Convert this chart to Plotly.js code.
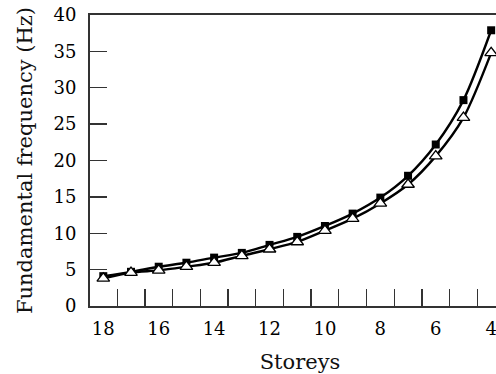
<!DOCTYPE html>
<html>
<head>
<meta charset="utf-8">
<script src="https://cdn.plot.ly/plotly-3.0.1.min.js"></script>
<style>html,body{margin:0;padding:0;background:#fff;overflow:hidden;width:496px;height:374px;}#chart{width:520px;height:374px;}</style>
</head>
<body>
<div id="chart"></div>
<script>
const storeys = [18,17,16,15,14,13,12,11,10,9,8,7,6,5,4];
const seriesSquare = [4.1,4.7,5.4,5.95,6.65,7.3,8.4,9.5,11.0,12.7,14.9,17.9,22.2,28.3,37.9];
const seriesTriangle = [3.8,4.6,4.9,5.4,5.95,6.9,7.8,8.8,10.35,12.0,14.1,16.7,20.6,25.9,34.8];
const xTickVals = [18,16,14,12,10,8,6,4];
const xMinorTicks = [17.5,16.5,15.5,14.5,13.5,12.5,11.5,10.5,9.5,8.5,7.5,6.5,5.5,4.5];
const yTickVals = [0,5,10,15,20,25,30,35,40];

const tickFont = {family: 'DejaVu Serif, serif', size: 18, color: '#000'};
const titleFont = {family: 'DejaVu Serif, serif', size: 21, color: '#111'};
const xRange = [18.48, 3.32];

const traces = [
  {x: storeys, y: seriesSquare, type: 'scatter', mode: 'lines+markers',
   line: {color: '#000', width: 2.4, shape: 'spline', smoothing: 0.8},
   marker: {symbol: 'square', size: 8, color: '#000'}, showlegend: false},
  {x: storeys, y: seriesTriangle, type: 'scatter', mode: 'lines+markers',
   line: {color: '#000', width: 2.4, shape: 'spline', smoothing: 0.8},
   marker: {symbol: 'triangle-up', size: 11, color: '#fff', line: {color: '#000', width: 1.3}}, showlegend: false},
  {x: [xMinorTicks[0]], y: [null], xaxis: 'x2', yaxis: 'y', type: 'scatter', mode: 'markers', showlegend: false, hoverinfo: 'skip'}
];

const layout = {
  width: 520, height: 374,
  margin: {l: 90, r: 10, t: 15, b: 68},
  paper_bgcolor: '#fff', plot_bgcolor: '#fff',
  font: tickFont,
  xaxis: {
    range: xRange, tickvals: xTickVals, ticktext: xTickVals.map(String),
    ticks: '', showgrid: false, zeroline: false,
    showline: true, linecolor: '#333', linewidth: 2, mirror: true,
    tickfont: tickFont, ticklabeloverflow: 'allow',
    ticklabelstandoff: 5,
    title: {text: 'Storeys', font: titleFont, standoff: 20}
  },
  xaxis2: {
    range: xRange, overlaying: 'x', anchor: 'y', tickvals: xMinorTicks, showticklabels: false,
    ticks: 'inside', ticklen: 17, tickwidth: 1.3, tickcolor: '#333',
    showgrid: false, zeroline: false, showline: false
  },
  yaxis: {
    range: [0, 40], tickvals: yTickVals, ticktext: yTickVals.map(String),
    ticks: 'inside', ticklen: 17, tickwidth: 1.3, tickcolor: '#333',
    showgrid: false, zeroline: false,
    showline: true, linecolor: '#333', linewidth: 2, mirror: false,
    tickfont: tickFont,
    ticklabelstandoff: 8,
    title: {text: 'Fundamental frequency (Hz)', font: titleFont, standoff: 15}
  }
};

Plotly.newPlot('chart', traces, layout, {staticPlot: true, displayModeBar: false});
</script>
</body>
</html>
